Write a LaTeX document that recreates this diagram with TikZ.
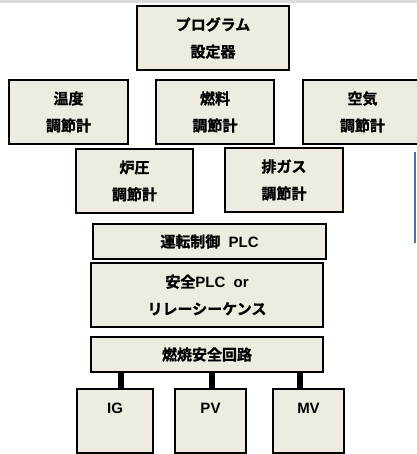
\documentclass[tikz,border=0pt]{standalone}
\usepackage{fontspec}
\setmainfont{Noto Sans CJK JP}[BoldFont={Noto Sans CJK JP Bold}, BoldFeatures={FakeBold=1.2}]
\newfontfamily\lat{Liberation Sans}
\definecolor{boxfill}{HTML}{EEECE1}
\definecolor{topband}{HTML}{DCDCDC}
\definecolor{blueline}{HTML}{4A70A8}
\tikzset{
  box/.style={draw=black, line width=1.2pt, fill=boxfill, inner sep=0pt,
    align=center, font=\fontsize{11.25}{20.25}\selectfont\bfseries},
  bottombox/.style={box, text height=8pt, text depth=20pt},
  conn/.style={draw=black, line width=3.8pt},
}
\begin{document}
\begin{tikzpicture}[x=0.75pt, y=-0.75pt]
\useasboundingbox (0,0) rectangle (417,454);
\clip (0,0) rectangle (417,454);
\fill[topband] (0,0) rectangle (417,3);
\draw[blueline, line width=1.2pt] (415,152) -- (415,243);

\node[box, minimum width=152*0.75pt, minimum height=64*0.75pt] (prog) at (213,38) {プログラム\\設定器};
\node[box, minimum width=119*0.75pt, minimum height=64*0.75pt] (temp) at (68.5,112) {温度\\調節計};
\node[box, minimum width=118*0.75pt, minimum height=64*0.75pt] (fuel) at (215,112) {燃料\\調節計};
\node[box, minimum width=119*0.75pt, minimum height=64*0.75pt] (air) at (362.5,112) {空気\\調節計};
\node[box, minimum width=117*0.75pt, minimum height=64*0.75pt] (furn) at (134.5,181) {炉圧\\調節計};
\node[box, minimum width=118*0.75pt, minimum height=64*0.75pt] (exh) at (284,180) {排ガス\\調節計};
\node[box, minimum width=233*0.75pt, minimum height=35*0.75pt] (plc) at (209.5,241.5) {運転制御{\lat\bfseries\ \ PLC}};
\node[box, minimum width=232*0.75pt, minimum height=64*0.75pt] (safe) at (207,295) {安全{\lat\bfseries PLC\ \ or}\\リレーシーケンス};
\node[box, minimum width=232*0.75pt, minimum height=35*0.75pt] (burn) at (207,354.5) {燃焼安全回路};
\node[bottombox, minimum width=76*0.75pt, minimum height=64*0.75pt] (ig) at (115,421) {\lat\bfseries IG};
\node[bottombox, minimum width=71*0.75pt, minimum height=64*0.75pt] (pv) at (210.5,421) {\lat\bfseries PV};
\node[bottombox, minimum width=71*0.75pt, minimum height=64*0.75pt] (mv) at (308.5,421) {\lat\bfseries MV};

\draw[conn] ([xshift=6*0.75pt]ig.north) -- ([xshift=6*0.75pt]ig.north |- burn.south);
\draw[conn] ([xshift=1.5*0.75pt]pv.north) -- ([xshift=1.5*0.75pt]pv.north |- burn.south);
\draw[conn] ([xshift=-8.5*0.75pt]mv.north) -- ([xshift=-8.5*0.75pt]mv.north |- burn.south);
\end{tikzpicture}
\end{document}
